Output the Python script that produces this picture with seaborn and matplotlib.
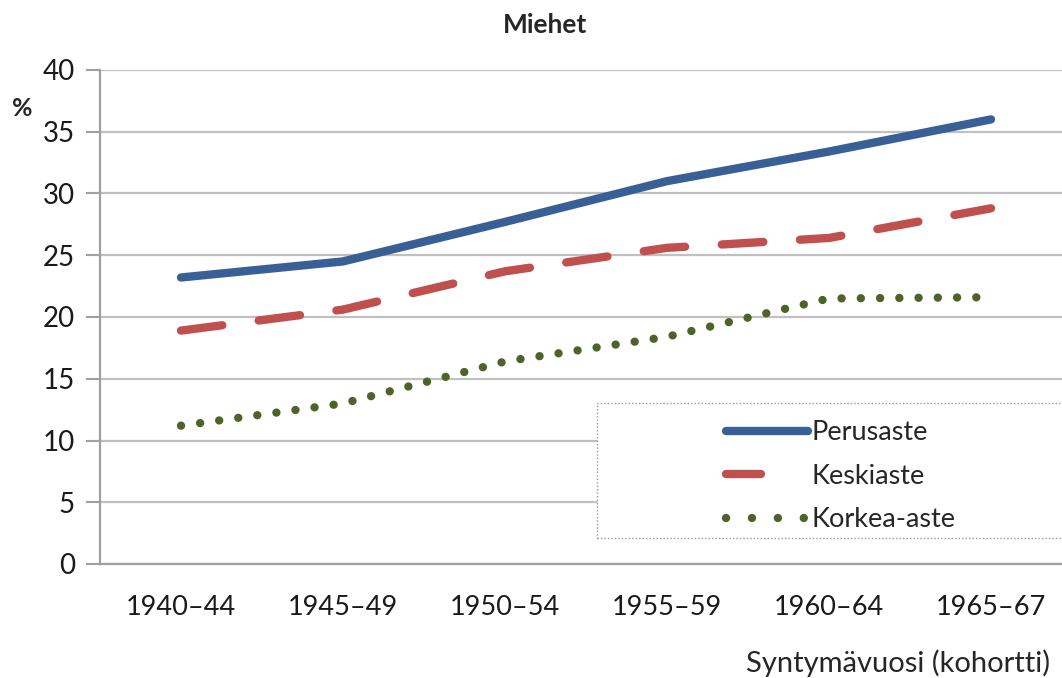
import matplotlib.pyplot as plt
import matplotlib.patches as mpatches
from matplotlib.lines import Line2D
import pandas as pd
import seaborn as sns

# Data
cohorts = ['1940–44', '1945–49', '1950–54', '1955–59', '1960–64', '1965–67']
perusaste = [23.2, 24.5, 27.7, 31.0, 33.4, 36.0]
keskiaste = [18.9, 20.6, 23.7, 25.6, 26.4, 28.8]
korkea_aste = [11.2, 13.0, 16.4, 18.4, 21.5, 21.6]

series_names = ['Perusaste', 'Keskiaste', 'Korkea-aste']
colors = ['#386096', '#C0504D', '#4F6228']

df = pd.DataFrame({'cohort': cohorts, 'Perusaste': perusaste,
                   'Keskiaste': keskiaste, 'Korkea-aste': korkea_aste})
df['pos'] = range(len(cohorts))

sns.set_theme(style='white')
plt.rcParams['font.family'] = ['Lato', 'DejaVu Sans']

fig = plt.figure(figsize=(10.62, 6.78), dpi=100)
ax = fig.add_axes([100 / 1062, 114 / 678, 972 / 1062, 494 / 678])

lw = 6.0
dash_styles = [None, (5.0, 4.4), (0.01, 2.3)]
for name, col, dash in zip(series_names, colors, dash_styles):
    sns.lineplot(data=df, x='pos', y=name, ax=ax, color=col, linewidth=lw, legend=False)
    ln = ax.lines[-1]
    ln.set_solid_capstyle('round')
    ln.set_dash_capstyle('round')
    ln.set_solid_joinstyle('round')
    if dash is not None:
        ln.set_dashes(dash)

ax.set_xlim(-0.5, len(cohorts) - 0.5)
ax.set_ylim(0, 40)
ax.set_yticks(range(0, 41, 5))
ax.set_xticks(range(len(cohorts)))
ax.set_xticklabels(cohorts)
ax.set_xticks([i - 0.5 for i in range(len(cohorts) + 1)], minor=True)
ax.tick_params(axis='x', which='major', length=0, pad=22, labelsize=19.5, labelcolor='#1a1a1a')
ax.tick_params(axis='x', which='minor', length=10, width=1.5, color='#a0a0a0', direction='out')
ax.tick_params(axis='y', length=10, width=1.5, color='#a0a0a0', direction='out', pad=8,
               labelsize=20, labelcolor='#1a1a1a', left=True)
ax.set_xlabel('')
ax.set_ylabel('')

ax.grid(axis='y', color='#c0c0c0', linewidth=1.6)
ax.set_axisbelow(True)
for s in ['top', 'right']:
    ax.spines[s].set_visible(False)
for s in ['left', 'bottom']:
    ax.spines[s].set_color('#a0a0a0')
    ax.spines[s].set_linewidth(1.6)

# legend with dotted frame
frame = mpatches.Rectangle(((597 - 100) / 972, 26 / 494), 480 / 972, 135 / 494,
                           transform=ax.transAxes, facecolor='white', edgecolor='#999999',
                           linestyle=(0, (1, 1.5)), linewidth=1.0, zorder=3, clip_on=False)
ax.add_patch(frame)
legend_dashes = [None, (4.2, 20), (0.01, 3.1)]
handles = []
for name, col, dash in zip(series_names, colors, legend_dashes):
    h = Line2D([0], [0], color=col, linewidth=lw, solid_capstyle='round', dash_capstyle='round')
    if dash is not None:
        h.set_dashes(dash)
    handles.append(h)
leg = ax.legend(handles, series_names, loc='upper left',
                bbox_to_anchor=(702 / 1062, (678 - 396) / 678),
                bbox_transform=fig.transFigure, frameon=False, fontsize=19.5,
                handlelength=3.0, handletextpad=0.15, labelspacing=0.68)
leg.set_zorder(5)

fig.text(545 / 1062, 1 - 25 / 678, 'Miehet', ha='center', va='center', fontsize=19, fontweight='bold')
fig.text(22 / 1062, 1 - 108 / 678, '%', ha='center', va='center', fontsize=18, fontweight='bold')
fig.text(1050 / 1062, 1 - 663 / 678, 'Syntymävuosi (kohortti)', ha='right', va='center', fontsize=21)

fig.savefig('out.png', dpi=100)
